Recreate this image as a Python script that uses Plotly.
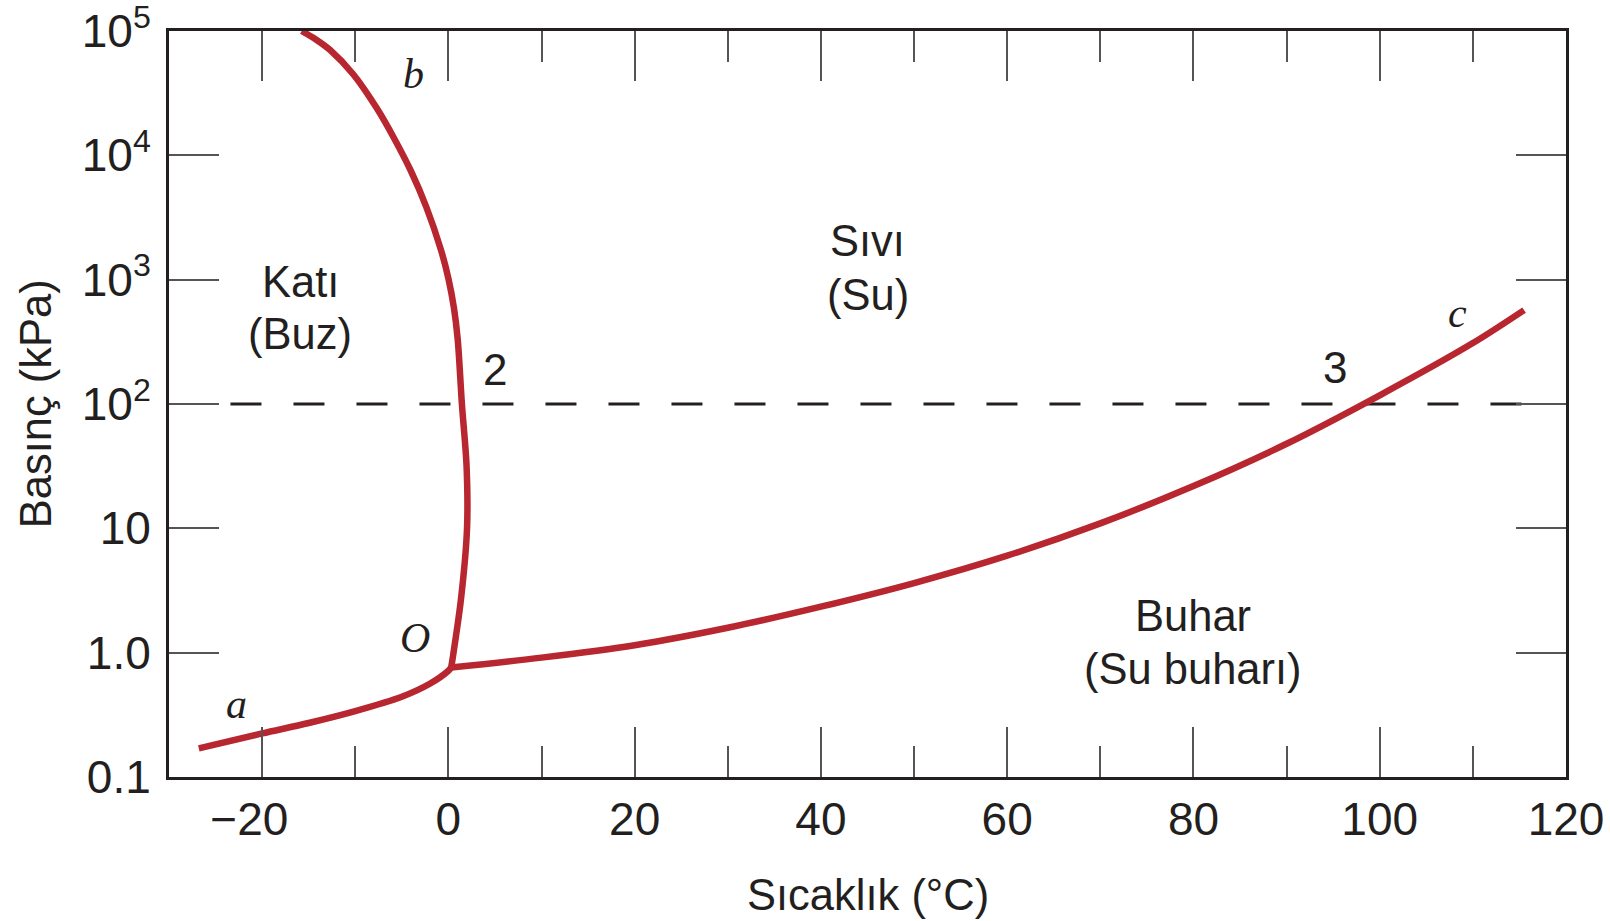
import plotly.graph_objects as go

# ---- data (temperature in °C, pressure in kPa) ----
sub_T = [-26.8, -20, -15, -10, -5, -2, 0, 0.3]            # solid-vapour (a-O)
sub_P = [0.170, 0.224, 0.272, 0.339, 0.442, 0.562, 0.716, 0.759]

vap_T = [0.3, 10, 20, 30, 40, 50, 60, 70, 80, 90, 100, 110, 115.5]   # liquid-vapour (O-c)
vap_P = [0.759, 0.912, 1.148, 1.585, 2.344, 3.631, 6.026, 10.96, 21.88, 47.86, 117.5, 309, 569]

fus_T = [0.3, 0.55, 1.35, 2.0, 1.95, 1.45, 1.0, 0.6, 0.0, -0.8, -2.4, -4.0, -5.85, -7.7, -10.2, -12.7, -14.15, -15.75]  # solid-liquid (O-b)
fus_P = [0.759, 1.0, 2.69, 10, 31.6, 100, 331, 589, 1023, 1738, 3890, 7413, 13800, 23990, 44670, 70300, 84700, 1e5]

ref_T = [-23.4, 116.2]      # 1 atm dashed line
ref_P = [100, 100]

y_tickvals = [0.1, 1, 10, 100, 1000, 1e4, 1e5]
y_ticktext = ["0.1", "1.0", "10", "10<sup>2</sup>", "10<sup>3</sup>", "10<sup>4</sup>", "10<sup>5</sup>"]
x_tickvals = [-20, 0, 20, 40, 60, 80, 100, 120]
x_ticktext = ["\u221220\u00a0\u00a0", "0", "20", "40", "60", "80", "100", "120"]
x_minorvals = [-10, 10, 30, 50, 70, 90, 110]

region_labels = [  # (text, T, log10 P)
    ("Katı", -15.9, 2.978), ("(Buz)", -15.9, 2.565),
    ("Sıvı", 45.0, 3.308), ("(Su)", 45.0, 2.879),
    ("Buhar", 80.0, 0.296), ("(Su buharı)", 80.0, -0.133),
]
point_labels_italic = [("b", -3.75, 4.653), ("a", -22.7, -0.414), ("O", -3.64, 0.114), ("c", 108.3, 2.73)]
point_labels_plain = [("2", 4.96, 2.277), ("3", 95.2, 2.293)]

RED = "#b8262f"
INK = "#231f20"
TICK = "#555555"
FONT = "Liberation Sans, Arial, sans-serif"

fig = go.Figure()
fig.add_trace(go.Scatter(x=ref_T, y=ref_P, mode="lines",
                         line=dict(color=INK, width=3, dash="31px,32px"), hoverinfo="skip"))
for T, P in [(sub_T, sub_P), (vap_T, vap_P), (fus_T, fus_P)]:
    fig.add_trace(go.Scatter(x=T, y=P, mode="lines",
                             line=dict(color=RED, width=6.5, shape="spline", smoothing=0.9)))

ann = []
for t, x, y in region_labels:
    ann.append(dict(text=t, x=x, y=y, xref="x", yref="y", showarrow=False,
                    font=dict(family=FONT, size=43.5, color=INK)))
for t, x, y in point_labels_italic:
    ann.append(dict(text="<i>%s</i>" % t, x=x, y=y, xref="x", yref="y", showarrow=False,
                    font=dict(family="Liberation Serif, Times New Roman, serif", size=42, color=INK)))
for t, x, y in point_labels_plain:
    ann.append(dict(text=t, x=x, y=y, xref="x", yref="y", showarrow=False,
                    font=dict(family=FONT, size=44, color=INK)))
# axis titles
ann.append(dict(text="Sıcaklık (°C)", x=0.5, y=-0.158, xref="paper", yref="paper",
                showarrow=False, yanchor="middle", font=dict(family=FONT, size=43.5, color=INK)))
ann.append(dict(text="Basınç (kPa)", x=-0.095, y=0.5, xref="paper", yref="paper",
                showarrow=False, textangle=-90, xanchor="center",
                font=dict(family=FONT, size=43.5, color=INK)))

fig.update_layout(
    width=1610, height=921,
    margin=dict(l=169, r=44, t=31, b=144, autoexpand=False),
    plot_bgcolor="white", paper_bgcolor="white",
    showlegend=False,
    annotations=ann,
    font=dict(family=FONT, color=INK),
    xaxis=dict(range=[-30, 120], tickmode="array", tickvals=x_tickvals, ticktext=x_ticktext,
               ticks="inside", ticklen=50, tickwidth=1.6, tickcolor=TICK,
               showline=True, linewidth=3, linecolor=INK, mirror="ticks",
               showgrid=False, zeroline=False, automargin=False, ticklabeloverflow="allow",
               tickfont=dict(family=FONT, size=46, color=INK), ticklabelstandoff=0,
               minor=dict(tickmode="array", tickvals=x_minorvals,
                          ticks="inside", ticklen=31, tickwidth=1.6, tickcolor=TICK, showgrid=False)),
    yaxis=dict(type="log", range=[-1, 5], tickmode="array", tickvals=y_tickvals, ticktext=y_ticktext,
               ticks="inside", ticklen=50, tickwidth=1.6, tickcolor=TICK,
               showline=True, linewidth=3, linecolor=INK, mirror="ticks",
               showgrid=False, zeroline=False, automargin=False, ticklabeloverflow="allow",
               tickfont=dict(family=FONT, size=46, color=INK), ticklabelstandoff=6),
)
# remove the page's default 8px body margin so the figure fills the window exactly
fig.write_html("out.html",
               config={"displayModeBar": False},
               post_script="document.body.style.margin='0';document.body.style.overflow='hidden';")
